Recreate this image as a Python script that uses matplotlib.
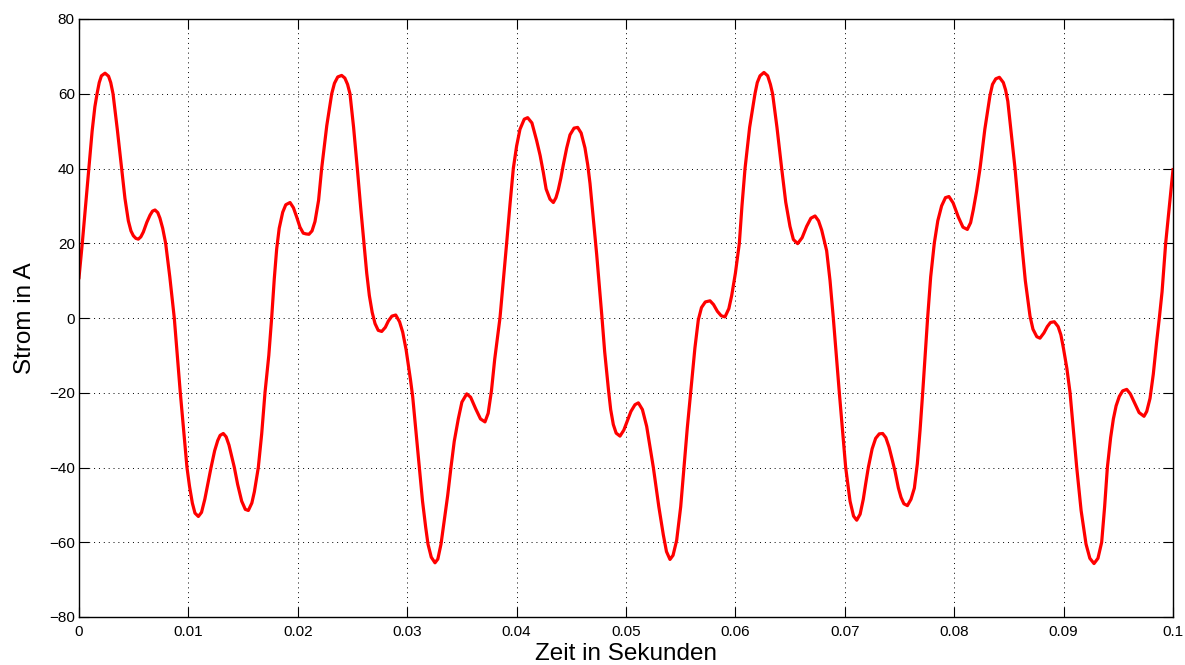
import matplotlib
matplotlib.use('Agg')
import matplotlib.pyplot as plt

zeit = [
    0.0, 0.0003, 0.0006, 0.00091, 0.0012, 0.00145, 0.00165, 0.00185, 0.00205, 0.00238,
    0.0027, 0.0029, 0.00311, 0.0035, 0.0039, 0.0042, 0.00451, 0.00475, 0.00497, 0.0052,
    0.00542, 0.00565, 0.00588, 0.0062, 0.00649, 0.00672, 0.00695, 0.0072, 0.0074, 0.00765,
    0.00792, 0.0083, 0.00871, 0.00926, 0.00987, 0.0101, 0.01036, 0.0106, 0.01091, 0.0112,
    0.0115, 0.0118, 0.01207, 0.0124, 0.01268, 0.0129, 0.01319, 0.01345, 0.01371, 0.01395,
    0.0142, 0.0145, 0.01487, 0.0152, 0.01548, 0.0158, 0.01603, 0.0162, 0.01639, 0.0167,
    0.017, 0.01735, 0.01761, 0.01785, 0.01807, 0.0183, 0.01862, 0.0189, 0.01929, 0.0196,
    0.0199, 0.0202, 0.0205, 0.02075, 0.02102, 0.0213, 0.02157, 0.0219, 0.02218, 0.02265,
    0.0231, 0.02335, 0.02365, 0.02401, 0.0243, 0.02455, 0.02477, 0.0251, 0.02544, 0.02575,
    0.02605, 0.0263, 0.02654, 0.0268, 0.02706, 0.02735, 0.02767, 0.028, 0.02828, 0.0286,
    0.02895, 0.0293, 0.02959, 0.0299, 0.0301, 0.0303, 0.0305, 0.0308, 0.03111, 0.0314,
    0.03169, 0.0319, 0.0322, 0.03254, 0.0328, 0.03309, 0.0334, 0.0337, 0.034, 0.0343,
    0.03467, 0.035, 0.03544, 0.0358, 0.03626, 0.0367, 0.03711, 0.0374, 0.0377, 0.038,
    0.0383, 0.03848, 0.03909, 0.0394, 0.0397, 0.04, 0.04031, 0.0407, 0.04101, 0.0414,
    0.04183, 0.04215, 0.04244, 0.0427, 0.04305, 0.04336, 0.0436, 0.04381, 0.04405, 0.04427,
    0.04458, 0.04488, 0.04525, 0.04558, 0.0459, 0.04625, 0.0465, 0.04671, 0.047, 0.04732,
    0.04755, 0.04778, 0.04805, 0.04839, 0.0486, 0.04884, 0.0491, 0.04945, 0.0498, 0.05006,
    0.05045, 0.05082, 0.05113, 0.0515, 0.05189, 0.0522, 0.0525, 0.053, 0.05341, 0.0537,
    0.05402, 0.0543, 0.05463, 0.055, 0.0553, 0.0556, 0.05591, 0.0563, 0.05661, 0.0569,
    0.05725, 0.05768, 0.058, 0.05835, 0.0587, 0.05905, 0.0594, 0.05966, 0.06, 0.06036,
    0.0606, 0.06088, 0.0613, 0.06179, 0.062, 0.06225, 0.06261, 0.06295, 0.0632, 0.0634,
    0.0638, 0.06423, 0.0646, 0.06499, 0.0653, 0.06569, 0.0661, 0.06651, 0.0669, 0.06728,
    0.0676, 0.06789, 0.06834, 0.06865, 0.06895, 0.0695, 0.07008, 0.07048, 0.0708, 0.07109,
    0.0714, 0.07169, 0.0719, 0.07215, 0.0725, 0.07282, 0.07315, 0.07346, 0.07375, 0.07404,
    0.0743, 0.07459, 0.0749, 0.07514, 0.0754, 0.07572, 0.07605, 0.07636, 0.07663, 0.07688,
    0.07712, 0.07757, 0.07785, 0.07818, 0.0785, 0.07885, 0.0792, 0.07952, 0.0799, 0.08038,
    0.0808, 0.0812, 0.0815, 0.08175, 0.08205, 0.08236, 0.0828, 0.08327, 0.0835, 0.0838,
    0.08413, 0.08449, 0.0847, 0.0849, 0.08556, 0.08617, 0.0865, 0.08693, 0.0872, 0.08755,
    0.08784, 0.0882, 0.08851, 0.0888, 0.08915, 0.0895, 0.08975, 0.08998, 0.0903, 0.09059,
    0.0909, 0.0912, 0.0916, 0.09205, 0.0924, 0.09278, 0.09314, 0.09348, 0.09375, 0.094,
    0.0943, 0.09455, 0.0948, 0.09509, 0.0954, 0.09577, 0.0961, 0.09653, 0.0969, 0.09735,
    0.0976, 0.0979, 0.0982, 0.0985, 0.09875, 0.099, 0.09933, 0.0997, 0.1,
]
strom = [
    10.8, 20, 30, 40, 50, 56.5, 60, 63, 64.8, 65.5,
    64.7, 63, 60, 50.5, 40, 32, 26, 23.3, 22, 21.3,
    21.1, 21.7, 23, 25.6, 27.5, 28.6, 28.9, 28.2, 26.7, 24,
    20, 11, 0, -20, -40, -45, -49.5, -52.2, -53.1, -52,
    -48.5, -44, -40, -35.5, -32.8, -31.4, -30.9, -31.8, -34, -37,
    -40, -44.5, -49, -51.2, -51.5, -49.5, -46.5, -43.5, -40, -31,
    -20, -10, 0, 10.5, 18.5, 24, 28.3, 30.3, 30.9, 29.5,
    27, 24.3, 22.7, 22.5, 22.4, 23.3, 25.8, 31.5, 40, 51.5,
    60, 62.8, 64.5, 64.9, 64.2, 62.5, 60, 51, 40, 29.5,
    20, 12, 6, 1.5, -1.5, -3.3, -3.6, -2.5, -0.8, 0.5,
    0.8, -1, -3.8, -8.5, -12.5, -16.5, -21, -30.5, -40, -49,
    -56, -60.5, -64, -65.5, -64.5, -60.5, -54, -47.5, -40, -33,
    -27, -22.5, -20.3, -21.2, -24.3, -27, -27.8, -25.5, -19.5, -11,
    -4, 0, 20, 30.5, 40, 46, 50.5, 53.2, 53.6, 52.2,
    47.5, 43.5, 39, 34.5, 31.8, 30.9, 32.2, 34.3, 37.5, 41,
    45.5, 49, 50.8, 51, 49.5, 45.5, 41, 36, 27, 17,
    9, 1, -9, -19, -24.5, -28.5, -30.8, -31.6, -30, -28,
    -25, -23.2, -22.7, -24.5, -29, -34.5, -40, -50.5, -58, -62.5,
    -64.6, -63.5, -59.5, -50.5, -40, -29.5, -20, -8, -0.5, 2.8,
    4.3, 4.6, 3.6, 1.8, 0.6, 0.3, 2.5, 6, 12, 20,
    30, 40, 51, 60, 63, 64.8, 65.7, 64.8, 62.5, 60,
    51, 40, 31, 24.5, 21, 19.9, 21.5, 24.5, 26.7, 27.3,
    26, 23.5, 18, 10, 0, -20, -40, -49, -53, -54.1,
    -52.5, -48.5, -44.5, -40, -35, -32.2, -31, -30.9, -32, -34.5,
    -37.5, -41, -45.5, -48, -49.7, -50.2, -48.5, -45.5, -39, -30,
    -20, 0, 11, 20, 26, 30, 32.2, 32.5, 30.8, 27,
    24.3, 23.7, 25.5, 29, 34, 40, 50.5, 59.5, 62.5, 64,
    64.4, 63, 61, 58, 40, 20, 10, 0.5, -3, -5,
    -5.4, -4, -2.3, -1.2, -1.0, -2.3, -4.5, -8, -13.5, -20,
    -30, -40, -51.5, -60.5, -64.3, -65.7, -64.3, -60, -50.5, -40,
    -32, -27, -23.5, -21, -19.5, -19.1, -20.3, -23, -25.3, -26.3,
    -25, -21.5, -15, -6.5, 0, 7, 20, 31, 39.7,
]

x_ticks = [0, 0.01, 0.02, 0.03, 0.04, 0.05, 0.06, 0.07, 0.08, 0.09, 0.1]
x_tick_labels = ['0', '0.01', '0.02', '0.03', '0.04', '0.05', '0.06', '0.07', '0.08', '0.09', '0.1']
y_ticks = [-80, -60, -40, -20, 0, 20, 40, 60, 80]

plt.rcParams['font.family'] = ['Liberation Sans', 'DejaVu Sans']

fig = plt.figure(figsize=(11.85, 6.65), dpi=100)
ax = fig.add_axes([79 / 1185, 1 - 617 / 665, 1094 / 1185, 598 / 665])

ax.plot(zeit, strom, color='red', linewidth=2.3, solid_joinstyle='round')

ax.set_xlim(0, 0.1)
ax.set_ylim(-80, 80)
ax.set_xticks(x_ticks)
ax.set_xticklabels(x_tick_labels)
ax.set_yticks(y_ticks)
ax.tick_params(direction='in', length=7, width=0.8, top=True, right=True,
               labelsize=11, colors='black')
ax.tick_params(axis='x', pad=5.5)
ax.tick_params(axis='y', pad=3)
ax.grid(True, linestyle=(0, (1, 4)), color='black', linewidth=0.7)
for s in ax.spines.values():
    s.set_linewidth(1.0)

ax.set_xlabel('Zeit in Sekunden', fontsize=17.5, labelpad=3)
ax.set_ylabel('Strom in A', fontsize=17.5, labelpad=9)

fig.savefig('out.png', dpi=100)
